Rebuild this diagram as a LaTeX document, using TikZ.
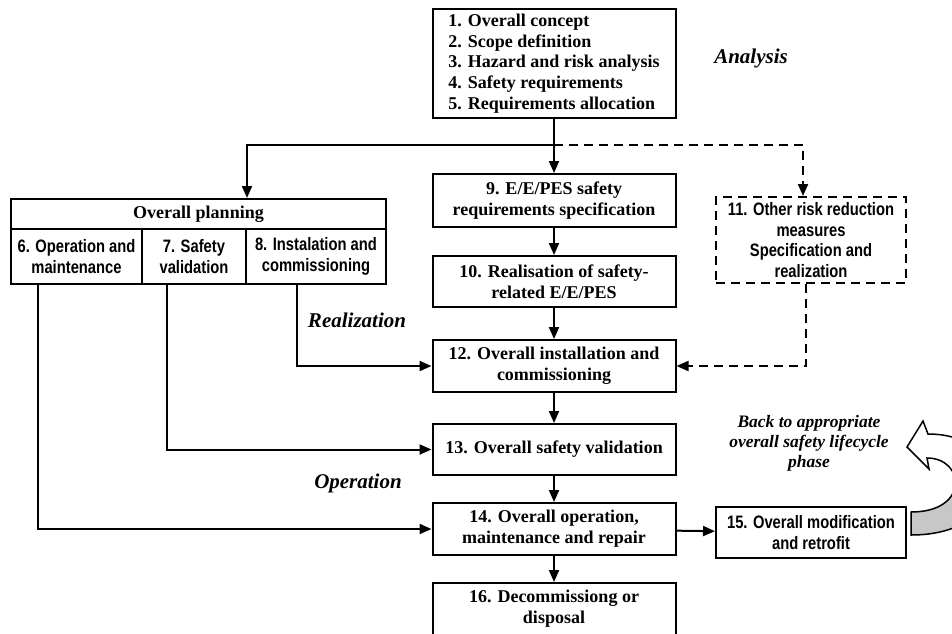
\documentclass[tikz,border=0pt]{standalone}
\usepackage{fontspec}
\setmainfont{Liberation Serif}
\newfontfamily\narrowsans[FakeStretch=0.82]{Liberation Sans}
\usetikzlibrary{arrows.meta,calc}
\newcommand\tmbold{\fontsize{18}{20.7}\selectfont\bfseries}
\newcommand\nsbold{\narrowsans\fontsize{18}{20.7}\selectfont\bfseries}
\newcommand\itlabel{\fontsize{21}{24}\selectfont\bfseries\itshape}
\newcommand\itnote{\fontsize{17.5}{20}\selectfont\bfseries\itshape}
% outline of the curved "go back" block arrow
\newcommand\bentpath{(911,535) .. controls (1015,535) and (1015,434) .. (928,434)
  -- (923,421) -- (907,447) -- (929,469) -- (927,458)
  .. controls (965,458) and (970,512) .. (911,512) -- cycle}

\begin{document}
\begin{tikzpicture}[x=1pt,y=-1pt,
  stage/.style={draw, line width=2pt, inner sep=0pt, align=center, font=\tmbold},
  sstage/.style={stage, font=\nsbold},
  flow/.style={line width=2pt, -{Triangle[length=12pt,width=10pt]}},
  optflow/.style={flow, dash pattern=on 9pt off 6pt},
  phase/.style={font=\itlabel}]
\useasboundingbox (0,0) rectangle (952,633);
\clip (0,0) rectangle (952,633);

% analysis phases 1-5
\node[stage, minimum width=243, minimum height=109, align=left] (b1) at (554,63.5)
  {1. Overall concept\\2. Scope definition\\3. Hazard and risk analysis\\4. Safety requirements\\5. Requirements allocation};
\node[phase] (analysis) at (751,58) {Analysis};

% overall planning block
\node[stage, minimum width=375, minimum height=30] (plan) at (198.5,214) {Overall planning};
\node[sstage, minimum width=131, minimum height=55] (c6) at (76.5,256.5) {6. Operation and\\maintenance};
\node[sstage, minimum width=104, minimum height=55] (c7) at (194,256.5) {7. Safety\\validation};
\node[sstage, minimum width=140, minimum height=55] (c8) at (316,256.5) {8. Instalation and\\commissioning};

% realisation column
\node[stage, minimum width=243, minimum height=53] (b9) at (554,200.5) {9. E/E/PES safety\\requirements specification};
\node[stage, minimum width=243, minimum height=51] (b10) at (554,281.5) {10. Realisation of safety-\\related E/E/PES};
\node[sstage, dash pattern=on 9pt off 6pt, minimum width=190, minimum height=86] (b11) at (811,240)
  {11. Other risk reduction\\measures\\Specification and\\realization};
\node[stage, minimum width=243, minimum height=52] (b12) at (554,366) {12. Overall installation and\\commissioning};
\node[stage, minimum width=243, minimum height=51] (b13) at (554,449.5) {13. Overall safety validation};
\node[stage, minimum width=243, minimum height=52] (b14) at (554,529) {14. Overall operation,\\maintenance and repair};
\node[sstage, minimum width=190, minimum height=51] (b15) at (811,532.5) {15. Overall modification\\and retrofit};
\node[stage, minimum width=243, minimum height=52] (b16) at (554,609) {16. Decommissiong or\\disposal};

\node[phase] (realization) at (357,320) {Realization};
\node[phase] (operation) at (358,483) {Operation};
\node[font=\itnote, align=center] (back) at (809,443) {Back to appropriate\\overall safety lifecycle\\phase};

% branching below the analysis block
\coordinate (split) at (554,145);
\coordinate (planin) at (247,0);
\draw[flow] (b1.south) -- (b9.north);
\draw[flow] (split) -| (planin |- plan.north);
\draw[optflow] (split) -| ($(b11.north)+(-8,0)$);

% main flow
\draw[flow] (b9) -- (b10);
\draw[flow] (b10) -- (b12);
\draw[flow] (b12) -- (b13);
\draw[flow] (b13) -- (b14);
\draw[flow] (b14) -- (b16);
\draw[flow] (b14) -- (b15);
\draw[optflow] ($(b11.south)+(-5,0)$) |- (b12.east);

% planning outputs
\draw[flow] ($(c8.south)+(-19,0)$) |- (b12.west);
\draw[flow] ($(c7.south)+(-27,0)$) |- (b13.west);
\draw[flow] ($(c6.south)+(-38.5,0)$) |- (b14.west);

% curved block arrow back to earlier phases
\fill[white] \bentpath;
\begin{scope}
  \clip \bentpath;
  \fill[black!22] (900,484) rectangle (1020,560);
\end{scope}
\draw[line width=1.5pt, line join=miter] \bentpath;
\end{tikzpicture}
\end{document}
